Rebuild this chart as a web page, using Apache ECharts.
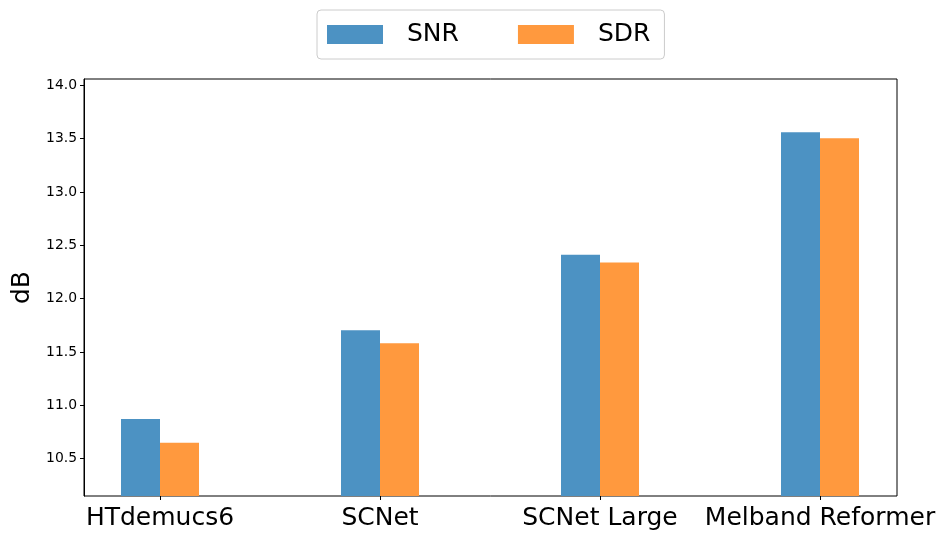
<!DOCTYPE html>
<html>
<head>
<meta charset="utf-8">
<script src="https://cdn.jsdelivr.net/npm/echarts@6/dist/echarts.min.js"></script>
<style>
html,body{margin:0;padding:0;background:#fff;}
#chart{width:947px;height:541px;}
</style>
</head>
<body>
<div id="chart"></div>
<script>
const categories = ['HTdemucs6', 'SCNet', 'SCNet Large', 'Melband Reformer'];
const snrValues = [10.873, 11.704, 12.413, 13.561];
const sdrValues = [10.649, 11.583, 12.339, 13.505];
const yTicks = [10.5, 11.0, 11.5, 12.0, 12.5, 13.0, 13.5, 14.0];
const yMin = 10.15, yMax = 14.06;

const font = 'DejaVu Sans';
const chart = echarts.init(document.getElementById('chart'), null, {renderer: 'canvas'});
chart.setOption({
  animation: false,
  backgroundColor: '#fff',
  textStyle: {fontFamily: font},
  legend: {
    left: 317, top: 10,
    padding: [12, 14, 12, 10],
    borderColor: '#cccccc', borderWidth: 1, borderRadius: 4,
    icon: 'rect',
    itemWidth: 56, itemHeight: 19, itemGap: 59,
    textStyle: {fontFamily: font, fontSize: 25, color: '#000', padding: [0, 0, 0, 19]},
    data: ['SNR', 'SDR']
  },
  grid: [
    {left: 84, top: 79, width: 813, height: 417, show: true, borderColor: '#000', borderWidth: 1, backgroundColor: 'transparent'},
    {left: 50, top: 79, width: 880, height: 417}
  ],
  xAxis: [
    {type: 'value', gridIndex: 0, min: 0, max: 1, show: false},
    {type: 'category', gridIndex: 1, data: categories, boundaryGap: true,
     axisLine: {show: false},
     axisTick: {show: true, alignWithLabel: true, length: 4, lineStyle: {color: '#000', width: 1}},
     axisLabel: {fontFamily: font, fontSize: 25, color: '#000', margin: 10, interval: 0},
     splitLine: {show: false}}
  ],
  yAxis: [
    {type: 'value', gridIndex: 0, min: yMin, max: yMax,
     name: 'dB', nameLocation: 'middle', nameGap: 49,
     nameTextStyle: {fontFamily: font, fontSize: 25, color: '#000'},
     axisLine: {show: true, lineStyle: {color: '#000', width: 1}},
     axisTick: {show: true, length: 4, customValues: yTicks, lineStyle: {color: '#000'}},
     axisLabel: {fontFamily: font, fontSize: 13.9, color: '#000', margin: 7, customValues: yTicks,
                 formatter: v => v.toFixed(1)},
     splitLine: {show: false}},
    {type: 'value', gridIndex: 1, min: yMin, max: yMax, show: false, splitLine: {show: false}}
  ],
  series: [
    {name: 'SNR', type: 'bar', xAxisIndex: 1, yAxisIndex: 1, data: snrValues,
     barWidth: 39, barGap: '0%', itemStyle: {color: '#4c92c3'}},
    {name: 'SDR', type: 'bar', xAxisIndex: 1, yAxisIndex: 1, data: sdrValues,
     barWidth: 39, barGap: '0%', itemStyle: {color: '#ff993e'}}
  ]
});
</script>
</body>
</html>
